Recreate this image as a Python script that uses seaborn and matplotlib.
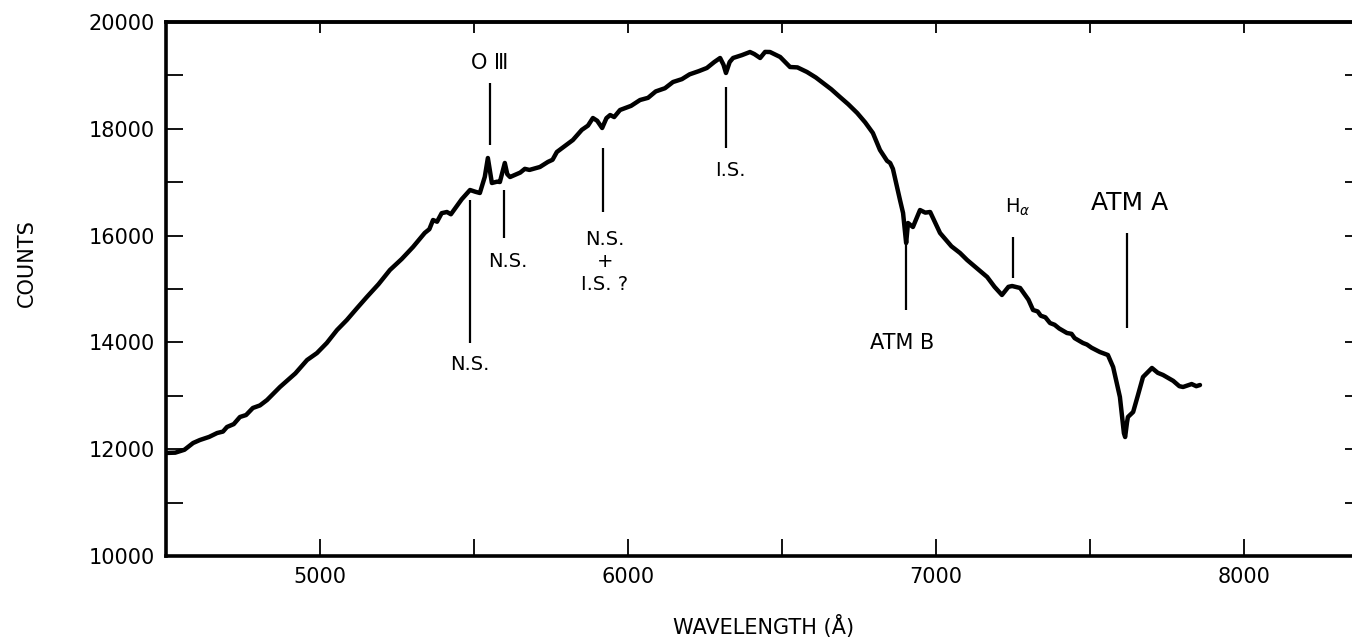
import matplotlib
matplotlib.use("Agg")
import matplotlib.pyplot as plt
from matplotlib.ticker import MultipleLocator
import seaborn as sns
import pandas as pd

# ---- spectrum ----
wavelength = [4500, 4530, 4560, 4588, 4610, 4640, 4666, 4685, 4698, 4720, 4740, 4760, 4782, 4805, 4828,
              4870, 4920, 4958, 4990, 5022, 5055, 5087, 5120, 5152, 5190, 5227, 5265, 5302, 5340, 5355,
              5367, 5380, 5395, 5412, 5425, 5440, 5460, 5487, 5505, 5519, 5535, 5545, 5552, 5558, 5575,
              5584, 5600, 5608, 5617, 5650, 5665, 5680, 5714, 5740, 5755, 5769, 5800, 5821, 5850, 5870,
              5886, 5900, 5916, 5930, 5942, 5955, 5974, 6010, 6039, 6065, 6090, 6120, 6146, 6175, 6200,
              6230, 6256, 6280, 6299, 6310, 6318, 6330, 6341, 6370, 6396, 6410, 6429, 6445, 6461, 6494,
              6526, 6550, 6581, 6610, 6633, 6660, 6688, 6715, 6744, 6770, 6795, 6818, 6841, 6851, 6860,
              6883, 6893, 6903, 6909, 6925, 6948, 6965, 6981, 7013, 7050, 7078, 7101, 7120, 7140, 7166,
              7190, 7214, 7235, 7247, 7273, 7300, 7315, 7330, 7340, 7355, 7370, 7385, 7400, 7425, 7440,
              7450, 7477, 7490, 7505, 7532, 7558, 7575, 7597, 7610, 7614, 7620, 7623, 7640, 7655, 7672,
              7701, 7720, 7737, 7770, 7790, 7802, 7830, 7845, 7857]
counts = [11930, 11935, 11990, 12116, 12172, 12230, 12303, 12330, 12416, 12470, 12603, 12640, 12772, 12820, 12921,
          13165, 13420, 13670, 13800, 13989, 14230, 14419, 14640, 14850, 15090, 15356, 15560, 15787, 16050, 16120,
          16292, 16260, 16420, 16442, 16400, 16520, 16680, 16854, 16820, 16798, 17100, 17453, 17200, 16985, 17010,
          17004, 17360, 17150, 17097, 17180, 17250, 17230, 17285, 17380, 17420, 17566, 17700, 17790, 17980, 18060,
          18202, 18150, 18015, 18200, 18258, 18220, 18352, 18430, 18539, 18580, 18700, 18760, 18876, 18930, 19020,
          19080, 19139, 19250, 19326, 19200, 19045, 19250, 19326, 19380, 19438, 19400, 19326, 19440, 19438, 19345,
          19157, 19150, 19064, 18960, 18858, 18740, 18596, 18460, 18296, 18120, 17921, 17603, 17400, 17360, 17250,
          16667, 16423, 15861, 16236, 16161, 16479, 16430, 16442, 16049, 15800, 15674, 15543, 15450, 15350, 15225,
          15040, 14888, 15040, 15056, 15019, 14800, 14607, 14580, 14500, 14470, 14363, 14330, 14260, 14176, 14160,
          14080, 13989, 13960, 13900, 13820, 13764, 13539, 12978, 12300, 12228, 12500, 12603, 12697, 13000, 13352,
          13521, 13430, 13390, 13280, 13180, 13165, 13220, 13180, 13202]

# ---- feature markers ----
feature_wl = [5487, 5552, 5597, 5919, 6318, 6903, 7250, 7620]
feature_top = [16667, 18858, 16854, 17640, 18783, 15861, 15974, 16049]
feature_bottom = [13989, 17697, 15955, 16442, 17640, 14607, 15206, 14270]
label_text = ["N.S.", "O \u2162", "N.S.", "N.S.\n+\nI.S. ?", "I.S.", "ATM B", "H$_\\alpha$", "ATM A"]
label_wl = [5487, 5552, 5610, 5925, 6331, 6890, 7266, 7630]
label_counts = [13577, 19232, 15506, 15506, 17228, 13989, 16536, 16610]
label_size = [14, 15, 14, 14, 14, 15, 14, 18]

x_major = [5000, 6000, 7000, 8000]
y_major = [10000, 12000, 14000, 16000, 18000, 20000]

sns.set_theme(style="ticks")
plt.rcParams['font.family'] = ['DejaVu Sans']

fig = plt.figure(figsize=(13.52, 6.38), dpi=100)
ax = fig.add_axes([166 / 1352, 82 / 638, 1196 / 1352, 534 / 638])

df = pd.DataFrame({"wavelength": wavelength, "counts": counts})
sns.lineplot(data=df, x="wavelength", y="counts", ax=ax, color="black",
             linewidth=3.2, estimator=None, solid_joinstyle="round")

ax.vlines(feature_wl, feature_bottom, feature_top, color="black", linewidth=1.6)
for t, xw, yc, fs in zip(label_text, label_wl, label_counts, label_size):
    ax.text(xw, yc, t, ha="center", va="center", fontsize=fs, color="black",
            linespacing=1.25)

ax.set_xlim(4500, 8383)
ax.set_ylim(10000, 20000)
ax.set_xticks(x_major)
ax.set_yticks(y_major)
ax.xaxis.set_minor_locator(MultipleLocator(500))
ax.yaxis.set_minor_locator(MultipleLocator(1000))
ax.tick_params(axis="both", which="both", direction="in", length=12.5, width=1.3,
               colors="black", labelsize=15, pad=8, top=False, right=True)
ax.tick_params(axis="y", which="both", labelright=False)

top = ax.secondary_xaxis("top")
top.set_xticks(x_major)
top.xaxis.set_minor_locator(MultipleLocator(500))
top.tick_params(axis="x", which="both", direction="in", length=8, width=1.3,
                labeltop=False, colors="black")
top.spines["top"].set_linewidth(2.6)

for s in ax.spines.values():
    s.set_linewidth(2.6)
    s.set_color("black")

ax.set_xlabel("WAVELENGTH (Å)", fontsize=15, color="black")
ax.set_ylabel("COUNTS", fontsize=15, color="black")
ax.xaxis.set_label_coords(0.5, -0.11)
ax.yaxis.set_label_coords(-0.108, 0.549)

fig.savefig("out.png", dpi=100)
